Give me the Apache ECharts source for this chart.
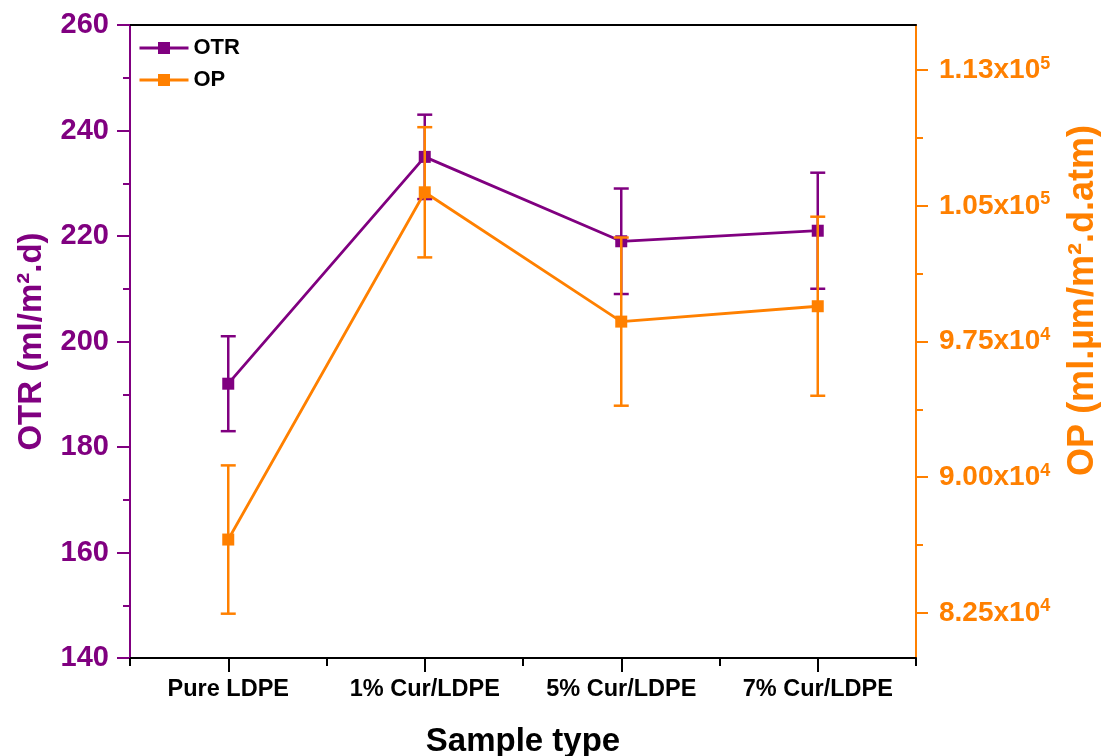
<!DOCTYPE html>
<html>
<head>
<meta charset="utf-8">
<script src="https://cdn.jsdelivr.net/npm/echarts@6/dist/echarts.min.js"></script>
<style>
html,body{margin:0;padding:0;background:#fff;}
#chart{width:1101px;height:756px;}
</style>
</head>
<body>
<div id="chart"></div>
<script>
const categories = ['Pure LDPE', '1% Cur/LDPE', '5% Cur/LDPE', '7% Cur/LDPE'];
const otrValues = [192, 235, 219, 221];
const otrErrors = [9, 8, 10, 11];
const opValues = [86550, 105750, 98600, 99450];
const opErrors = [4100, 3600, 4650, 4950];
const rightTickValues = [82500, 90000, 97500, 105000, 112500];
const rightTickMantissa = ['8.25x10', '9.00x10', '9.75x10', '1.05x10', '1.13x10'];
const rightTickExponent = ['4', '4', '4', '5', '5'];
const rightMinorTicks = [86250, 93750, 101250, 108750];

const PURPLE = '#800080';
const ORANGE = '#FF8000';
const FONT = '"Liberation Sans", Arial, sans-serif';

function errorBarSeries(name, values, errors, color, yAxisIndex, z) {
  return {
    type: 'custom',
    name: name + ' err',
    xAxisIndex: 0,
    yAxisIndex: yAxisIndex,
    z: z,
    silent: true,
    data: values.map((v, i) => [i, v, errors[i]]),
    renderItem: function (params, api) {
      const x = api.value(0), v = api.value(1), e = api.value(2);
      const top = api.coord([x, v + e]);
      const bot = api.coord([x, v - e]);
      const hw = 7.5;
      const st = { stroke: color, lineWidth: 2.5 };
      return {
        type: 'group',
        children: [
          { type: 'line', shape: { x1: top[0], y1: top[1], x2: bot[0], y2: bot[1] }, style: st },
          { type: 'line', shape: { x1: top[0] - hw, y1: top[1], x2: top[0] + hw, y2: top[1] }, style: st },
          { type: 'line', shape: { x1: bot[0] - hw, y1: bot[1], x2: bot[0] + hw, y2: bot[1] }, style: st }
        ]
      };
    }
  };
}

const chart = echarts.init(document.getElementById('chart'), null, { renderer: 'canvas' });
chart.setOption({
  backgroundColor: '#ffffff',
  animation: false,
  textStyle: { fontFamily: FONT },
  grid: { left: 130, right: 185, top: 25, bottom: 98, containLabel: false, outerBoundsMode: 'none' },
  legend: {
    show: true,
    orient: 'vertical',
    left: 138, top: 37,
    padding: 0,
    itemGap: 10,
    itemWidth: 49,
    itemHeight: 15,
    lineStyle: { width: 3 },
    data: ['OTR', 'OP'],
    textStyle: { fontSize: 22, fontWeight: 'bold', color: '#000', fontFamily: FONT, lineHeight: 22, padding: [0, 0, 0, 0] }
  },
  xAxis: [
    {
      type: 'category', data: categories, position: 'bottom', boundaryGap: true,
      axisLine: { show: true, lineStyle: { color: '#000', width: 2 } },
      axisTick: { show: true, alignWithLabel: true, length: 14, lineStyle: { color: '#000', width: 2 } },
      axisLabel: { show: true, fontSize: 23.5, fontWeight: 'bold', color: '#000', margin: 20, fontFamily: FONT },
      splitLine: { show: false },
      name: 'Sample type', nameLocation: 'middle', nameGap: 67,
      nameTextStyle: { fontSize: 33, fontWeight: 'bold', color: '#000', fontFamily: FONT }
    },
    {
      type: 'category', data: categories, position: 'bottom', boundaryGap: true,
      axisLine: { show: false },
      axisTick: { show: true, length: 8, lineStyle: { color: '#000', width: 2 } },
      axisLabel: { show: false },
      splitLine: { show: false }
    },
    {
      type: 'category', data: categories, position: 'top', boundaryGap: true,
      axisLine: { show: true, lineStyle: { color: '#000', width: 2 } },
      axisTick: { show: false },
      axisLabel: { show: false },
      splitLine: { show: false }
    }
  ],
  yAxis: [
    {
      type: 'value', position: 'left', min: 140, max: 260, interval: 20,
      axisLine: { show: true, lineStyle: { color: PURPLE, width: 2 } },
      axisTick: { show: true, inside: false, length: 13, lineStyle: { color: PURPLE, width: 2 } },
      minorTick: { show: true, splitNumber: 2, length: 7, lineStyle: { color: PURPLE, width: 2 } },
      splitLine: { show: false },
      minorSplitLine: { show: false },
      axisLabel: { fontSize: 29, fontWeight: 'bold', color: PURPLE, margin: 21, fontFamily: FONT },
      name: 'OTR (ml/m\u00B2.d)', nameLocation: 'middle', nameGap: 82,
      nameTextStyle: { fontSize: 33, fontWeight: 'bold', color: PURPLE, fontFamily: FONT }
    },
    {
      type: 'value', position: 'right', min: 80000, max: 115000,
      axisLine: { show: true, lineStyle: { color: ORANGE, width: 2 } },
      axisTick: { show: true, inside: false, length: 12, customValues: rightTickValues, lineStyle: { color: ORANGE, width: 2 } },
      splitLine: { show: false },
      axisLabel: {
        show: true, margin: 23, customValues: rightTickValues,
        formatter: function (val) {
          const i = rightTickValues.indexOf(val);
          if (i < 0) return '';
          return '{m|' + rightTickMantissa[i] + '}{e|' + rightTickExponent[i] + '}';
        },
        rich: {
          m: { fontSize: 28, fontWeight: 'bold', color: ORANGE, fontFamily: FONT, lineHeight: 31 },
          e: { fontSize: 18, fontWeight: 'bold', color: ORANGE, fontFamily: FONT, verticalAlign: 'top', lineHeight: 18 }
        }
      },
      name: 'OP (ml.\u00B5m/m\u00B2.d.atm)', nameLocation: 'middle', nameGap: 149,
      nameTextStyle: { fontSize: 36, fontWeight: 'bold', color: ORANGE, fontFamily: FONT, padding: [0, 0, 0, 82] }
    },
    {
      type: 'value', position: 'right', min: 80000, max: 115000,
      axisLine: { show: false },
      axisTick: { show: true, inside: false, length: 7, customValues: rightMinorTicks, lineStyle: { color: ORANGE, width: 2 } },
      axisLabel: { show: false },
      splitLine: { show: false }
    }
  ],
  series: [
    {
      name: 'OTR', type: 'line', xAxisIndex: 0, yAxisIndex: 0, z: 2,
      data: otrValues,
      symbol: 'rect', symbolSize: 12, showSymbol: true,
      lineStyle: { color: PURPLE, width: 2.8 },
      itemStyle: { color: PURPLE }
    },
    errorBarSeries('OTR', otrValues, otrErrors, PURPLE, 0, 3),
    {
      name: 'OP', type: 'line', xAxisIndex: 0, yAxisIndex: 1, z: 4,
      data: opValues,
      symbol: 'rect', symbolSize: 12, showSymbol: true,
      lineStyle: { color: ORANGE, width: 2.8 },
      itemStyle: { color: ORANGE }
    },
    errorBarSeries('OP', opValues, opErrors, ORANGE, 1, 5)
  ]
});
</script>
</body>
</html>
